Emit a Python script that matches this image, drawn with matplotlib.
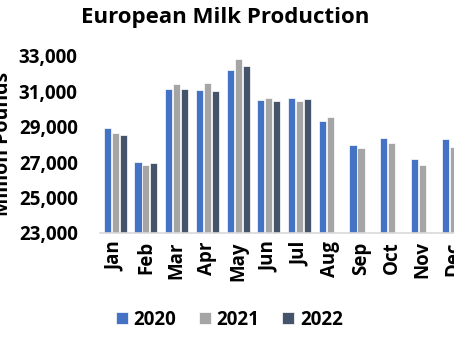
import matplotlib
matplotlib.use("Agg")
import matplotlib.pyplot as plt
import numpy as np

months = ['Jan', 'Feb', 'Mar', 'Apr', 'May', 'Jun', 'Jul', 'Aug', 'Sep', 'Oct', 'Nov', 'Dec']
prod_2020 = [28900, 26980, 31110, 31060, 32230, 30510, 30620, 29300, 27940, 28340, 27170, 28280]
prod_2021 = [28660, 26810, 31420, 31470, 32810, 30620, 30430, 29550, 27810, 28090, 26850, 27830]
prod_2022 = [28550, 26930, 31130, 31040, 32420, 30450, 30550, np.nan, np.nan, np.nan, np.nan, np.nan]
yticks = [23000, 25000, 27000, 29000, 31000, 33000]

plt.rcParams['font.family'] = ['Open Sans', 'DejaVu Sans']

fig = plt.figure(figsize=(4.54, 3.41), dpi=100)
# the plot area runs off the right edge, Dec is clipped like in the source
ax = fig.add_axes([0.22, 0.317, 0.812, 0.519])

x = np.arange(len(months))
w = 0.23
ax.bar(x - 0.26, prod_2020, w, color='#4472C4', edgecolor='white', linewidth=0.5, label='2020')
ax.bar(x, prod_2021, w, color='#A5A5A5', edgecolor='white', linewidth=0.5, label='2021')
ax.bar(x + 0.26, prod_2022, w, color='#44546A', edgecolor='white', linewidth=0.5, label='2022')

ax.set_xlim(-0.5, 11.5)
ax.set_ylim(23000, 33000)
ax.set_yticks(yticks)
ax.set_yticklabels([f'{v:,}' for v in yticks], fontsize=13.5, fontweight='bold')
ax.set_xticks(x)
ax.set_xticklabels(months, rotation=90, fontsize=13.5, fontweight='bold')
ax.tick_params(length=0)
ax.tick_params(axis='y', pad=16)
ax.tick_params(axis='x', pad=6)

for s in ['top', 'right', 'left']:
    ax.spines[s].set_visible(False)
ax.spines['bottom'].set_color('#D9D9D9')
ax.spines['bottom'].set_linewidth(1.2)

ax.set_ylabel('Million Pounds', fontsize=14, fontweight='bold')
ax.yaxis.set_label_coords(-0.237, 0.5)

fig.text(0.496, 0.95, 'European Milk Production', ha='center', va='center',
         fontsize=16, fontweight='bold')

fig.legend(loc='center', bbox_to_anchor=(0.505, 0.063), ncol=3, frameon=False,
           prop={'weight': 'bold', 'size': 13.5},
           handlelength=0.65, handleheight=0.65, handletextpad=0.3, columnspacing=1.2)

fig.savefig('out.png', dpi=100)
